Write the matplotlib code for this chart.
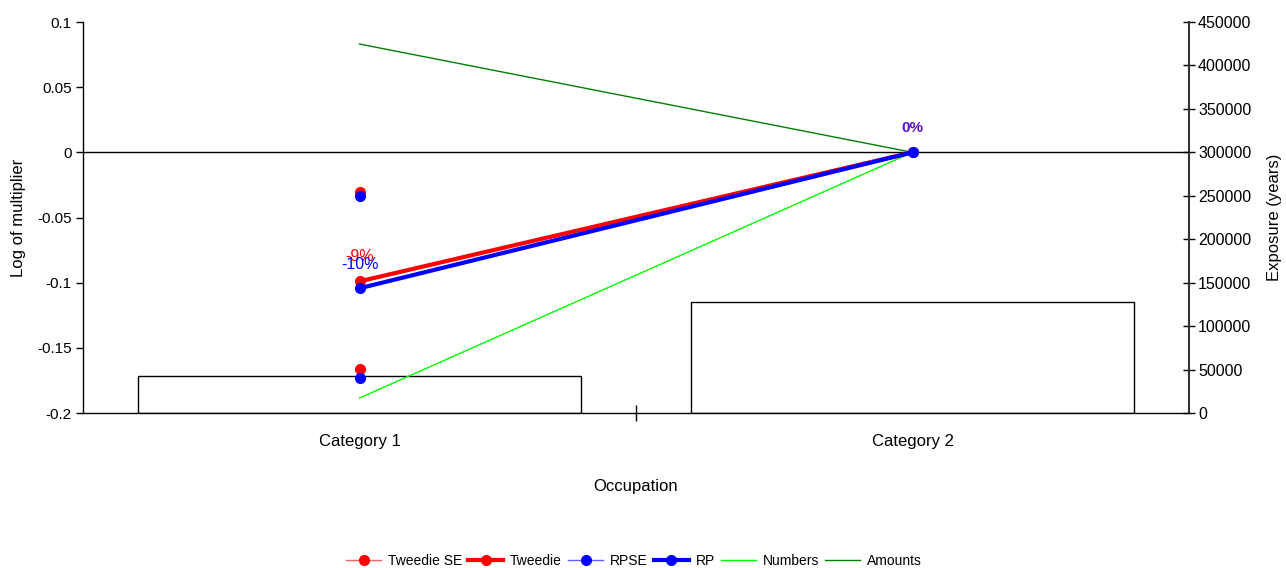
import matplotlib
matplotlib.use("Agg")
import matplotlib.pyplot as plt
from matplotlib.lines import Line2D
import numpy as np

plt.rcParams['font.family'] = ['Liberation Sans', 'DejaVu Sans']

categories = ["Category 1", "Category 2"]
exposure = [43000, 128000]
tweedie = [-0.099, 0.0]
tweedie_se_upper = [-0.0305, 0.0]
tweedie_se_lower = [-0.1665, 0.0]
rp = [-0.1043, 0.0]
rpse_upper = [-0.0335, 0.0]
rpse_lower = [-0.1735, 0.0]
numbers = [-0.1885, 0.0]
amounts = [0.0831, 0.0]
tweedie_labels = ["-9%", "0%"]
rp_labels = ["-10%", "0%"]

W, H = 1286, 568
fig = plt.figure(figsize=(W / 100, H / 100), dpi=100)
ax = fig.add_axes([83 / W, 1 - 413 / H, (1189 - 83) / W, (413 - 22) / H])
ax2 = ax.twinx()
ax.set_zorder(ax2.get_zorder() + 1)
ax.patch.set_visible(False)

x = np.arange(len(categories))

# Exposure bars (secondary axis)
ax2.bar(x, exposure, width=0.8, color='white', edgecolor='black', linewidth=1.0)
ax2.set_ylim(0, 450000)
ax2.set_yticks(np.arange(0, 450001, 50000))
ax2.tick_params(axis='y', direction='inout', length=9, width=1, labelsize=11.5, pad=2)
ax2.set_ylabel("Exposure (years)", fontsize=12, labelpad=11)

# zero line
ax.axhline(0, color='black', lw=1.0, zorder=1)

red = '#ff0000'
blue = '#0000ff'
ms = 7
# SE markers (no connecting lines)
ax.plot([x[0]], [tweedie_se_upper[0]], 'o', color=red, ms=ms, zorder=3)
ax.plot([x[0]], [tweedie_se_lower[0]], 'o', color=red, ms=ms, zorder=3)
ax.plot([x[0]], [rpse_upper[0]], 'o', color=blue, ms=ms, zorder=3)
ax.plot([x[0]], [rpse_lower[0]], 'o', color=blue, ms=ms, zorder=3)

ax.plot(x, numbers, color='#00ff00', lw=1.0, zorder=2)
ax.plot(x, amounts, color='#008000', lw=1.0, zorder=2)
ax.plot(x, tweedie, color=red, lw=3, marker='o', ms=ms, zorder=4)
ax.plot(x, rp, color=blue, lw=3, marker='o', ms=ms, zorder=5)

# data labels
ax.text(x[0], tweedie[0] + 0.0192, tweedie_labels[0], color=red, fontsize=11.5,
        ha='center', va='center', zorder=6)
ax.text(x[0], rp[0] + 0.0180, rp_labels[0], color=blue, fontsize=11.5,
        ha='center', va='center', zorder=7)
ax.text(x[1], tweedie[1] + 0.0184, tweedie_labels[1], color='#5a10c8', fontsize=11,
        ha='center', va='center', zorder=7, fontweight='bold')

ax.set_xlim(-0.5, 1.5)
ax.set_ylim(-0.2, 0.1)
ax.set_yticks([-0.2, -0.15, -0.1, -0.05, 0, 0.05, 0.1])
ax.set_yticklabels(["-0.2", "-0.15", "-0.1", "-0.05", "0", "0.05", "0.1"])
ax.tick_params(axis='y', direction='out', length=5, width=1, labelsize=11, pad=3)
ax.set_ylabel("Log of multiplier", fontsize=12)
ax.yaxis.set_label_coords((26 - 83) / 1106, 0.5)

ax.set_xticks(x)
ax.set_xticklabels(categories)
ax.tick_params(axis='x', which='major', length=0, labelsize=12, pad=15)
ax.set_xticks([0.5], minor=True)
ax.tick_params(axis='x', which='minor', direction='inout', length=12, width=1)
ax.set_xlabel("Occupation", fontsize=12, labelpad=22)

for a in (ax, ax2):
    a.spines['top'].set_visible(False)
ax.spines['right'].set_visible(False)
ax2.spines['left'].set_visible(False)
ax2.spines['bottom'].set_visible(False)
ax2.spines['right'].set_linewidth(1.5)
ax2.spines['right'].set_color('#333333')
ax.spines['left'].set_linewidth(1.0)
ax.spines['bottom'].set_linewidth(1.0)

handles = [
    Line2D([], [], color='#ff6060', lw=1, marker='o', ms=ms, mfc=red, mec=red),
    Line2D([], [], color=red, lw=3, marker='o', ms=ms),
    Line2D([], [], color='#6060ff', lw=1, marker='o', ms=ms, mfc=blue, mec=blue),
    Line2D([], [], color=blue, lw=3, marker='o', ms=ms),
    Line2D([], [], color='#00ff00', lw=1),
    Line2D([], [], color='#008000', lw=1),
]
labels = ["Tweedie SE", "Tweedie", "RPSE", "RP", "Numbers", "Amounts"]
fig.legend(handles, labels, loc='center', bbox_to_anchor=(634 / W, 1 - 561 / H),
           ncol=6, frameon=False, fontsize=10, handlelength=2.5, handletextpad=0.5,
           columnspacing=0.45)

fig.savefig("out.png", dpi=100)
